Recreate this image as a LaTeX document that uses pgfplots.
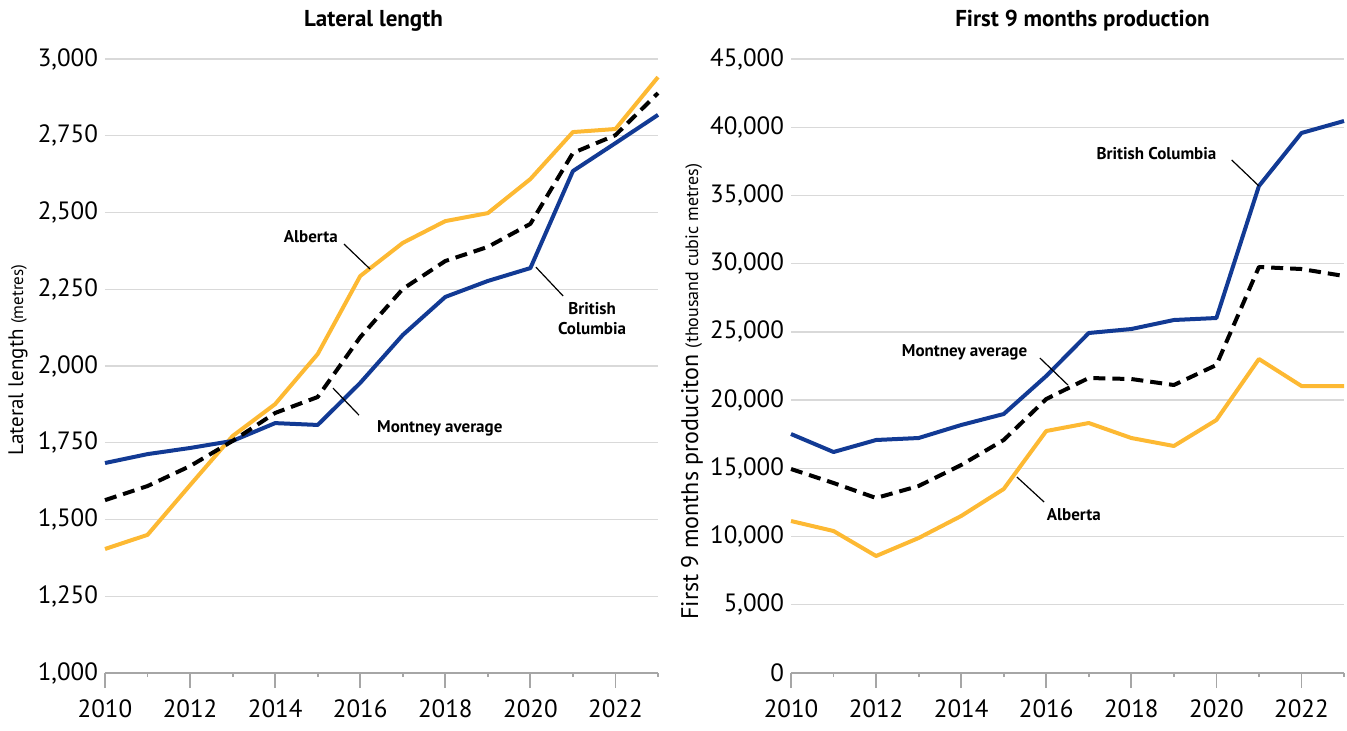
\documentclass[border=0pt]{standalone}
\usepackage{pgfplots}
\pgfplotsset{compat=1.18}
\usepackage{fontspec}
\setmainfont{PT Sans}
\definecolor{bcblue}{HTML}{123A94}
\definecolor{abyellow}{HTML}{FDB933}
\definecolor{gridgray}{HTML}{D9D9D9}
\definecolor{axgray}{HTML}{A6A6A6}

\tikzset{
 lead/.style={black, line width=0.6pt},
 lab/.style={font=\bfseries\fontsize{8.5}{10}\selectfont, align=center},
}
\pgfplotsset{
 mystyle/.style={
  scale only axis, width=276.5pt, height=307pt,
  xmin=2010, xmax=2023,
  axis x line*=bottom, axis y line*=left,
  y axis line style={draw=none},
  x axis line style={axgray, line width=1pt, -},
  xtick={2010,2012,...,2022}, minor xtick={2011,2013,...,2023},
  xticklabels={2010,2012,2014,2016,2018,2020,2022},
  xtick align=outside, major tick length=7.5pt, minor tick length=2pt,
  xtick style={axgray, line width=0.9pt},
  ytick style={draw=none},
  ymajorgrids, grid style={gridgray, line width=0.7pt},
  tick label style={font=\fontsize{12.5}{14}\selectfont},
  xticklabel style={inner ysep=1pt, yshift=-4.6pt},
  /pgf/number format/assume math mode=true,
  scaled y ticks=false,
  yticklabel style={/pgf/number format/fixed, /pgf/number format/1000 sep={,}},
  title style={at={(axis description cs:0.5,1)}, anchor=center, yshift=13pt, font=\bfseries\fontsize{11.5}{13}\selectfont},
  every axis y label/.append style={anchor=center},
  clip=false,
 },
 bc/.style={bcblue, line width=2pt, line join=round},
 ab/.style={abyellow, line width=2pt, line join=round},
 mt/.style={black, line width=2pt, dash pattern=on 6pt off 3.5pt, line join=round},
}

\begin{document}
\begin{tikzpicture}
\begin{axis}[mystyle,
  ymin=1000, ymax=3000, ytick={1000,1250,...,3000},
  title={Lateral length}, title style={xshift=-4pt},
  ylabel={\fontsize{10.5}{12}\selectfont Lateral length {\fontsize{8.5}{10}\selectfont (metres)}},
  ylabel style={at={(axis description cs:0,0.51)}, yshift=43.5pt},
]
\addplot[ab] coordinates {(2010,1404) (2011,1450) (2012,1612) (2013,1772) (2014,1876) (2015,2039) (2016,2293) (2017,2401) (2018,2472) (2019,2498) (2020,2609) (2021,2762) (2022,2772) (2023,2941)};
\addplot[bc] coordinates {(2010,1684) (2011,1713) (2012,1733) (2013,1756) (2014,1814) (2015,1808) (2016,1945) (2017,2101) (2018,2225) (2019,2277) (2020,2319) (2021,2635) (2022,2726) (2023,2818)};
\addplot[mt] coordinates {(2010,1563) (2011,1609) (2012,1674) (2013,1756) (2014,1847) (2015,1899) (2016,2094) (2017,2251) (2018,2342) (2019,2388) (2020,2463) (2021,2694) (2022,2752) (2023,2889)};
\draw[lead] (axis cs:2015.62,2397) -- (axis cs:2016.23,2316);
\node[lab] at (axis cs:2014.84,2420) {Alberta};
\draw[lead] (axis cs:2020.13,2322) -- (axis cs:2020.77,2228);
\node[lab] at (axis cs:2021.45,2156) {British\\Columbia};
\draw[lead] (axis cs:2015.36,1928) -- (axis cs:2015.97,1840);
\node[lab] at (axis cs:2017.87,1798) {Montney average};
\end{axis}

\begin{axis}[mystyle, at={(343pt,0pt)},
  ymin=0, ymax=45000, ytick={0,5000,...,45000},
  title={First 9 months production}, title style={xshift=7.5pt},
  ylabel={\fontsize{12}{14}\selectfont First 9 months produciton {\fontsize{9}{10}\selectfont (thousand cubic metres)}},
  ylabel style={at={(axis description cs:0,0.458)}, yshift=49.5pt},
]
\addplot[ab] coordinates {(2010,11140) (2011,10407) (2012,8575) (2013,9894) (2014,11507) (2015,13485) (2016,17736) (2017,18322) (2018,17223) (2019,16637) (2020,18542) (2021,23013) (2022,21034) (2023,21034)};
\addplot[bc] coordinates {(2010,17516) (2011,16197) (2012,17077) (2013,17223) (2014,18176) (2015,18982) (2016,21767) (2017,24919) (2018,25211) (2019,25871) (2020,26018) (2021,35692) (2022,39577) (2023,40456)};
\addplot[mt] coordinates {(2010,14951) (2011,13925) (2012,12826) (2013,13705) (2014,15244) (2015,17077) (2016,20081) (2017,21620) (2018,21547) (2019,21107) (2020,22573) (2021,29755) (2022,29609) (2023,29096)};
\draw[lead] (axis cs:2020.36,37598) -- (axis cs:2021.0,35692);
\node[lab] at (axis cs:2018.59,38038) {British Columbia};
\draw[lead] (axis cs:2015.85,23086) -- (axis cs:2016.51,21107);
\node[lab] at (axis cs:2014.08,23526) {Montney average};
\draw[lead] (axis cs:2015.31,14365) -- (axis cs:2015.95,12532);
\node[lab] at (axis cs:2016.65,11580) {Alberta};
\end{axis}
\pgfresetboundingbox
\path (-52.5pt,-28.5pt) rectangle (621pt,336.5pt);
\end{tikzpicture}
\end{document}
